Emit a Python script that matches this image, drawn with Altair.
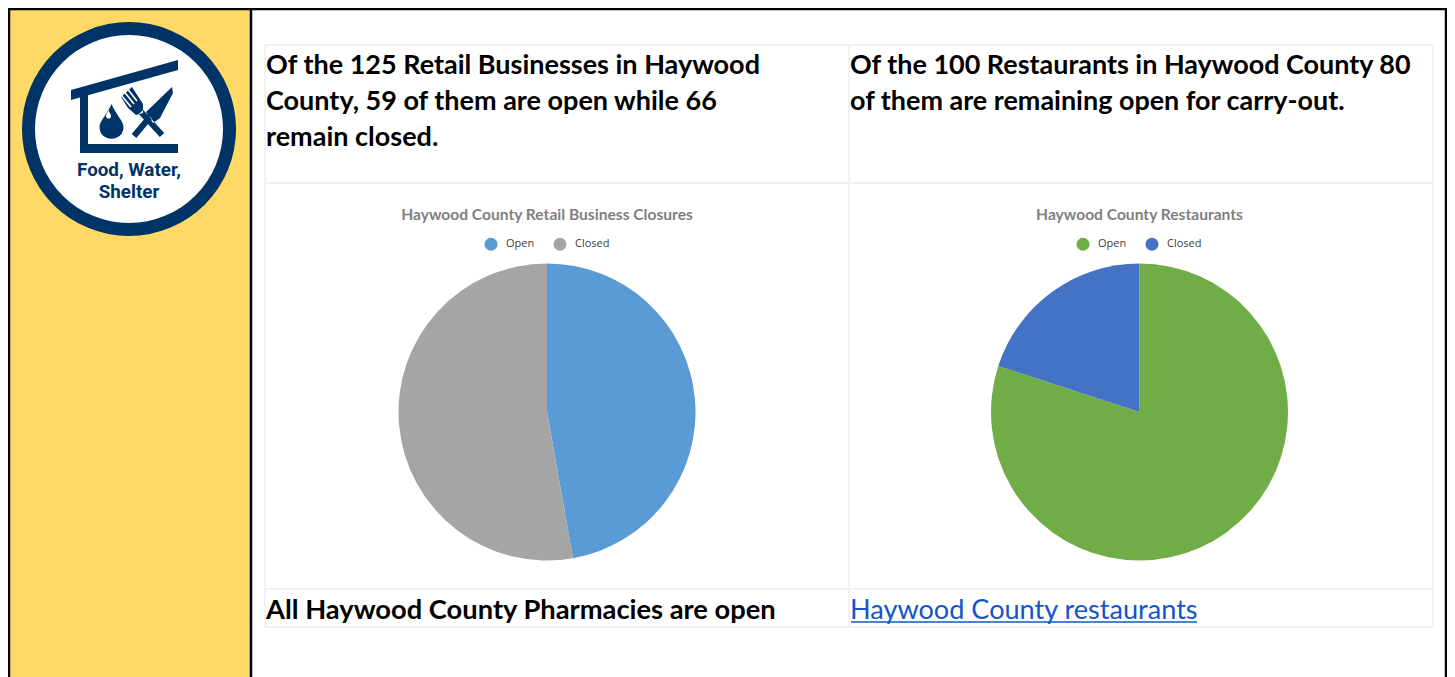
import altair as alt
import pandas as pd

# ---- values ----
categories = ["Open", "Closed"]
retail_values = [59, 66]
restaurant_values = [80, 20]
retail_title = "Haywood County Retail Business Closures"
restaurant_title = "Haywood County Restaurants"
retail_lines = ["Of the 125 Retail Businesses in Haywood", "County, 59 of them are open while 66", "remain closed."]
restaurant_lines = ["Of the 100 Restaurants in Haywood County 80", "of them are remaining open for carry-out."]
pharmacy_text = "All Haywood County Pharmacies are open"
link_text = "Haywood County restaurants"
logo_lines = ["Food, Water,", "Shelter"]

# ---- layout (page pixels; the chart origin sits at 8,8) ----
OX = OY = 8
W, H = 1439, 669
FONT = "Lato"
NAVY = "#003366"
GRID = "#f2f2f2"


def px(v):
    return alt.value(v - OX)


def py(v):
    return alt.value(v - OY)


def seg(x1, y1, x2, y2, color, sw=2):
    base = alt.Chart(pd.DataFrame({"a": [0]}))
    return base.mark_rule(color=color, strokeWidth=sw).encode(x=px(x1), x2=px(x2), y=py(y1), y2=py(y2))


def txt(s, x, y, size, color="black", weight="normal", font=FONT, align="left"):
    return alt.Chart(pd.DataFrame({"t": [s]})).mark_text(
        text=s, font=font, fontSize=size, color=color, fontWeight=weight, align=align, baseline="middle"
    ).encode(x=px(x), y=py(y))


def pie(values, colors, cx, cy, legend_x, legend_y):
    df = pd.DataFrame({"cat": categories, "val": values, "idx": [0, 1]})
    return alt.Chart(df).mark_arc(radius=148.5).encode(
        theta=alt.Theta("val:Q", stack=True),
        order=alt.Order("idx:O"),
        color=alt.Color(
            "cat:N",
            sort=categories,
            scale=alt.Scale(domain=categories, range=colors),
            legend=alt.Legend(
                orient="none", legendX=legend_x - OX, legendY=legend_y - OY, direction="horizontal",
                title=None, symbolType="circle", symbolSize=170, symbolStrokeWidth=0,
                labelFont="Open Sans", labelFontSize=11, labelColor="#404040", labelOffset=8,
                columnPadding=18,
            ),
        ),
        x=px(cx),
        y=py(cy),
    )


# ---- logo: one path in symbol units, built from page pixels ----
LCX, LCY, LR = 129, 129, 107


def poly(pts):
    return "M" + "L".join(f"{(x - LCX) / LR:.4f},{(y - LCY) / LR:.4f}" for x, y in pts) + "Z"


def thick(x1, y1, x2, y2, w):
    dx, dy = x2 - x1, y2 - y1
    n = (dx * dx + dy * dy) ** 0.5
    ox, oy = -dy / n * w / 2, dx / n * w / 2
    return poly([(x1 + ox, y1 + oy), (x2 + ox, y2 + oy), (x2 - ox, y2 - oy), (x1 - ox, y1 - oy)])


def drop(x, y_tip, y_c, r):
    u = lambda v, c: (v - c) / LR
    return (
        f"M{u(x, LCX):.4f},{u(y_tip, LCY):.4f}"
        f"C{u(x + r * 0.35, LCX):.4f},{u(y_tip + (y_c - y_tip) * 0.45, LCY):.4f} "
        f"{u(x + r, LCX):.4f},{u(y_c - r * 0.5, LCY):.4f} {u(x + r, LCX):.4f},{u(y_c, LCY):.4f}"
        f"C{u(x + r, LCX):.4f},{u(y_c + r * 1.3, LCY):.4f} {u(x - r, LCX):.4f},{u(y_c + r * 1.3, LCY):.4f} "
        f"{u(x - r, LCX):.4f},{u(y_c, LCY):.4f}"
        f"C{u(x - r, LCX):.4f},{u(y_c - r * 0.5, LCY):.4f} {u(x - r * 0.35, LCX):.4f},"
        f"{u(y_tip + (y_c - y_tip) * 0.45, LCY):.4f} {u(x, LCX):.4f},{u(y_tip, LCY):.4f}Z"
    )


house = "".join([
    poly([(71, 90), (178, 60), (178, 70), (71, 100)]),
    poly([(80, 96), (88, 94), (88, 144), (178, 144), (178, 153), (80, 153)]),
])
fork = "".join([
    thick(141, 112, 162, 135, 6),
    poly([(121, 97), (132, 87), (143, 104), (143, 113), (136, 115), (128, 108)]),
])
tine_gaps = "".join([
    thick(124.5, 92, 134, 104, 1.6),
    thick(128, 89.5, 137, 101, 1.6),
    thick(121.5, 95.5, 131, 107, 1.6),
])
knife = "".join([
    thick(134, 136, 150, 117, 6),
    poly([(146, 112), (172, 87), (173, 93), (160, 118), (153, 123)]),
])
SYMBOL_SIZE = (2 * LR) ** 2


def glyph(path, color):
    return alt.Chart(pd.DataFrame({"a": [0]})).mark_point(
        shape=path, size=SYMBOL_SIZE, filled=True, color=color, opacity=1, strokeWidth=0
    ).encode(x=px(LCX), y=py(LCY))


def disc(r, color):
    return alt.Chart(pd.DataFrame({"a": [0]})).mark_arc(
        radius=r, theta=0, theta2=6.2832, color=color
    ).encode(x=px(LCX), y=py(LCY))


# ---- frame ----
frame = alt.Chart(pd.DataFrame({"a": [0]})).mark_rect(color="#FFD966").encode(
    x=px(8), x2=px(251), y=py(8), y2=py(677)
)
layers = [
    frame,
    seg(8, 9, 1447, 9, "black", 2.5),
    seg(9, 8, 9, 677, "black", 2.5),
    seg(251, 8, 251, 677, "black", 2.5),
    seg(1446, 8, 1446, 677, "black", 2.5),
]

# ---- table grid ----
for y in [45, 183, 589, 627]:
    layers.append(seg(265, y, 1433, y, GRID))
for x in [265, 849, 1433]:
    layers.append(seg(x, 45, x, 627, GRID))

# ---- logo ----
layers += [
    disc(107, NAVY),
    disc(94, "white"),
    glyph(house + fork + knife + drop(111.5, 104, 127, 12), NAVY),
    glyph(tine_gaps + drop(108.5, 110, 116, 2.6), "white"),
    txt(logo_lines[0], 129, 170, 18.8, NAVY, "bold", "Roboto", "center"),
    txt(logo_lines[1], 129, 192, 18.8, NAVY, "bold", "Roboto", "center"),
]

# ---- table text ----
for line, y in zip(retail_lines, [66, 102, 138]):
    layers.append(txt(line, 266, y, 27, weight="bold"))
for line, y in zip(restaurant_lines, [66, 102]):
    layers.append(txt(line, 850, y, 26.95, weight="bold"))
layers.append(txt(pharmacy_text, 266, 611, 27.3, weight="bold"))
layers.append(txt(link_text, 850, 611, 27.1, color="#1155CC"))
layers.append(seg(851, 622, 1197, 622, "#1155CC", 1.5))

# ---- chart titles ----
layers.append(txt(retail_title, 547, 215, 15.6, "#7f7f7f", "bold", align="center"))
layers.append(txt(restaurant_title, 1139.5, 215, 15.6, "#7f7f7f", "bold", align="center"))

# ---- pies ----
layers.append(pie(retail_values, ["#5B9BD5", "#A5A5A5"], 547, 412, 484, 237))
layers.append(pie(restaurant_values, ["#70AD47", "#4472C4"], 1139.5, 412, 1076, 237))

chart = (
    alt.layer(*layers)
    .resolve_scale(theta="independent", color="independent")
    .properties(width=W, height=H, autosize=alt.AutoSizeParams(type="none"), padding=0, background="white")
    .configure_view(stroke=None)
)

chart.save("out.html", embed_options={"renderer": "svg", "actions": False})
